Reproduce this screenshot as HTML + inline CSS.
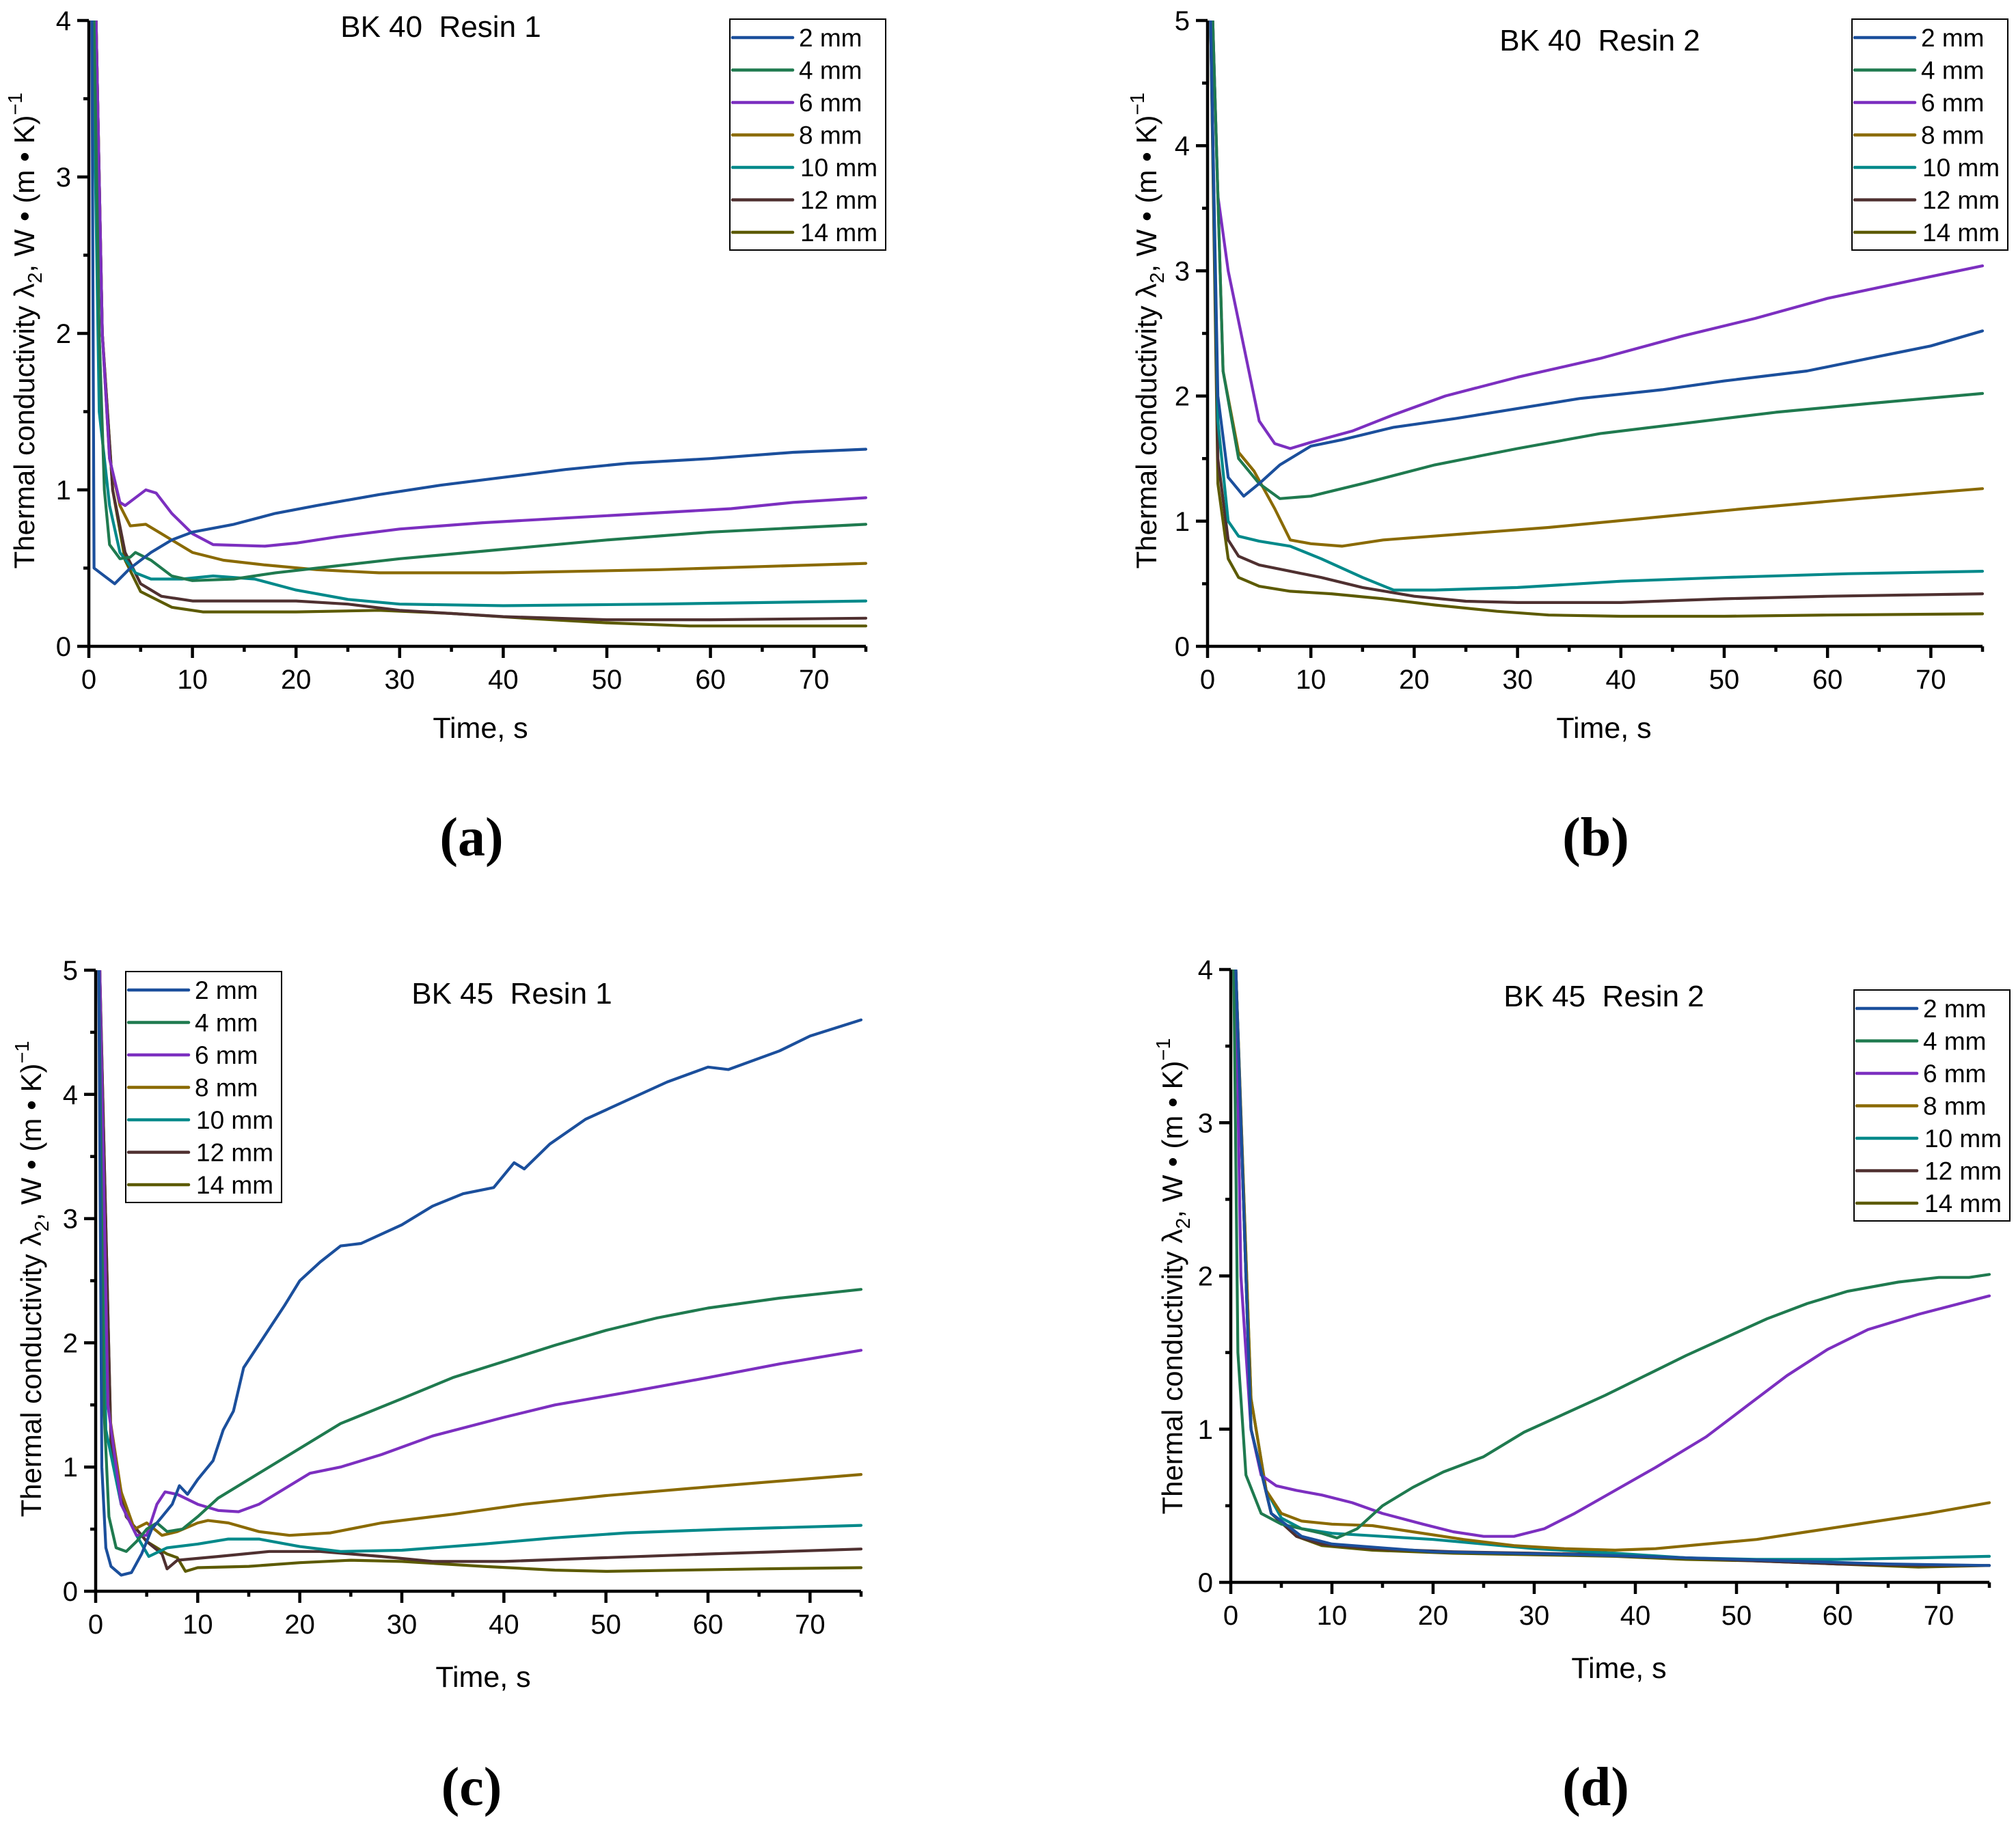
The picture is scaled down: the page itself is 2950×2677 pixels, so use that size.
<!DOCTYPE html>
<html><head><meta charset="utf-8"><style>
html,body{margin:0;padding:0;background:#fff}
svg{display:block}
text{font-family:"Liberation Sans",sans-serif;fill:#000}
</style></head><body>
<svg id="fig" width="2950" height="2677" viewBox="0 0 2950 2677" xmlns="http://www.w3.org/2000/svg"></svg>
<script>
// ---- data (time in s, conductivity values) ----
const seriesLabels = ["2 mm","4 mm","6 mm","8 mm","10 mm","12 mm","14 mm"];
const xTicks = [0,10,20,30,40,50,60,70];

// Panel a: BK 40 Resin 1
const a_t_2 = [0.3,0.5,1.5,2.5,4,6,8,10,14,18,22,28,34,40,46,52,60,68,75];
const a_v_2 = [4,0.5,0.45,0.4,0.5,0.6,0.68,0.73,0.78,0.85,0.9,0.97,1.03,1.08,1.13,1.17,1.2,1.24,1.26];
const a_t_4 = [0.5,1,1.5,2,3,4,4.5,6,8,10,14,18,22,30,40,50,60,75];
const a_v_4 = [4,2,1,0.65,0.56,0.57,0.6,0.55,0.45,0.42,0.43,0.47,0.5,0.56,0.62,0.68,0.73,0.78];
const a_t_6 = [0.7,1.3,2,3,3.5,4.5,5.5,6.5,8,10,12,17,20,24,30,38,46,54,62,68,75];
const a_v_6 = [4,2,1.2,0.92,0.9,0.95,1.0,0.98,0.85,0.72,0.65,0.64,0.66,0.7,0.75,0.79,0.82,0.85,0.88,0.92,0.95];
const a_t_8 = [0.7,1.3,2,3,4,5.5,7,10,13,17,22,28,40,55,65,75];
const a_v_8 = [4,2,1.2,0.9,0.77,0.78,0.72,0.6,0.55,0.52,0.49,0.47,0.47,0.49,0.51,0.53];
const a_t_10 = [0.4,1,2,3,4.5,6,9,12,16,20,25,30,40,55,75];
const a_v_10 = [4,1.5,0.9,0.6,0.47,0.43,0.43,0.45,0.43,0.36,0.3,0.27,0.26,0.27,0.29];
const a_t_12 = [0.7,1.3,2.3,3.5,5,7,10,15,20,25,30,40,50,60,75];
const a_v_12 = [4,2,1.0,0.6,0.4,0.32,0.29,0.29,0.29,0.27,0.23,0.19,0.17,0.17,0.18];
const a_t_14 = [0.7,1.3,2.3,3.5,5,8,11,20,28,35,42,50,58,75];
const a_v_14 = [4,2,1.0,0.55,0.35,0.25,0.22,0.22,0.23,0.21,0.18,0.15,0.13,0.13];

// Panel b: BK 40 Resin 2
const b_t_2 = [0.3,1,2,3.5,5,7,10,13,18,24,30,36,44,50,58,64,70,75];
const b_v_2 = [5,2,1.35,1.2,1.3,1.45,1.6,1.65,1.75,1.82,1.9,1.98,2.05,2.12,2.2,2.3,2.4,2.52];
const b_t_4 = [0.5,1.5,3,5,7,10,15,22,30,38,46,55,64,75];
const b_v_4 = [5,2.2,1.5,1.3,1.18,1.2,1.3,1.45,1.58,1.7,1.78,1.87,1.94,2.02];
const b_t_6 = [0.5,1,2,3.5,5,6.5,8,10,14,18,23,30,38,46,53,60,68,75];
const b_v_6 = [5,3.6,3.0,2.4,1.8,1.62,1.58,1.63,1.72,1.85,2.0,2.15,2.3,2.48,2.62,2.78,2.92,3.04];
const b_t_8 = [0.5,1.5,3,4.5,6.5,8,10,13,17,25,33,42,52,63,75];
const b_v_8 = [5,2.2,1.55,1.4,1.1,0.85,0.82,0.8,0.85,0.9,0.95,1.02,1.1,1.18,1.26];
const b_t_10 = [0.3,1,2,3,5,8,11,15,18,22,30,40,50,62,75];
const b_v_10 = [5,1.8,1.0,0.88,0.84,0.8,0.7,0.55,0.45,0.45,0.47,0.52,0.55,0.58,0.6];
const b_t_12 = [0.3,1,2,3,5,8,11,15,20,25,30,40,50,60,75];
const b_v_12 = [5,1.5,0.85,0.72,0.65,0.6,0.55,0.47,0.4,0.36,0.35,0.35,0.38,0.4,0.42];
const b_t_14 = [0.3,1,2,3,5,8,12,17,22,28,33,40,50,60,75];
const b_v_14 = [5,1.3,0.7,0.55,0.48,0.44,0.42,0.38,0.33,0.28,0.25,0.24,0.24,0.25,0.26];

// Panel c: BK 45 Resin 1
const c_t_2 = [0.3,0.6,1,1.5,2.5,3.5,4.5,5.5,6.5,7.5,8.2,9,10,11.5,12.5,13.5,14.5,16.5,18.5,20,22,24,26,30,33,36,39,41,42,44.5,48,52,56,60,62,67,70,75];
const c_v_2 = [5,1.0,0.35,0.2,0.13,0.15,0.3,0.5,0.6,0.7,0.85,0.78,0.9,1.05,1.3,1.45,1.8,2.05,2.3,2.5,2.65,2.78,2.8,2.95,3.1,3.2,3.25,3.45,3.4,3.6,3.8,3.95,4.1,4.22,4.2,4.35,4.47,4.6];
const c_t_4 = [0.3,0.8,1.3,2,3,4,5,6,7,8.5,10,12,16,20,24,30,35,40,45,50,55,60,67,75];
const c_v_4 = [5,1.5,0.6,0.35,0.32,0.4,0.5,0.55,0.48,0.5,0.6,0.75,0.95,1.15,1.35,1.55,1.72,1.85,1.98,2.1,2.2,2.28,2.36,2.43];
const c_t_6 = [0.4,1.2,2.5,4,5,6,6.8,8,10,12,14,16,18,21,24,28,33,40,45,52,60,67,75];
const c_v_6 = [5,1.5,0.7,0.45,0.45,0.7,0.8,0.78,0.7,0.65,0.64,0.7,0.8,0.95,1.0,1.1,1.25,1.4,1.5,1.6,1.72,1.83,1.94];
const c_t_8 = [0.4,1.2,2.5,3.8,5,6.5,8,10,11,13,16,19,23,28,35,42,50,60,75];
const c_v_8 = [5,1.5,0.8,0.5,0.55,0.45,0.48,0.55,0.57,0.55,0.48,0.45,0.47,0.55,0.62,0.7,0.77,0.84,0.94];
const c_t_10 = [0.3,1,2.5,4,5.2,7,10,13,16,20,24,30,38,45,52,62,75];
const c_v_10 = [5,1.3,0.7,0.45,0.28,0.35,0.38,0.42,0.42,0.36,0.32,0.33,0.38,0.43,0.47,0.5,0.53];
const c_t_12 = [0.4,1.5,3,5,6.5,7,8,12,17,22,28,33,40,50,60,75];
const c_v_12 = [5,1.2,0.6,0.4,0.3,0.18,0.25,0.28,0.32,0.32,0.28,0.24,0.24,0.27,0.3,0.34];
const c_t_14 = [0.4,1.5,3,5,7,8,8.8,10,15,20,25,30,38,45,50,65,75];
const c_v_14 = [5,1.2,0.6,0.4,0.3,0.27,0.16,0.19,0.2,0.23,0.25,0.24,0.2,0.17,0.16,0.18,0.19];

// Panel d: BK 45 Resin 2
const d_t_2 = [0.5,2,4,7,10,20,35,50,65,75];
const d_v_2 = [4,1,0.45,0.3,0.25,0.2,0.18,0.15,0.12,0.11];
const d_t_4 = [0.3,0.7,1.5,3,5,7,9,10.5,12.5,15,18,21,25,29,33,37,41,45,49,53,57,61,66,70,73,75];
const d_v_4 = [4,1.5,0.7,0.45,0.38,0.35,0.32,0.29,0.35,0.5,0.62,0.72,0.82,0.98,1.1,1.22,1.35,1.48,1.6,1.72,1.82,1.9,1.96,1.99,1.99,2.01];
const d_t_6 = [0.5,1,2,3,4.5,6.5,9,12,15,19,22,25,28,31,34,38,42,47,51,55,59,63,68,75];
const d_v_6 = [4,2,1.0,0.7,0.63,0.6,0.57,0.52,0.45,0.38,0.33,0.3,0.3,0.35,0.45,0.6,0.75,0.95,1.15,1.35,1.52,1.65,1.75,1.87];
const d_t_8 = [0.5,2,3.5,5,7,10,14,18,23,28,33,38,42,47,52,57,63,69,75];
const d_v_8 = [4,1.2,0.6,0.45,0.4,0.38,0.37,0.33,0.28,0.24,0.22,0.21,0.22,0.25,0.28,0.33,0.39,0.45,0.52];
const d_t_10 = [0.5,2,3.5,5,7,10,15,20,25,30,38,45,52,60,68,75];
const d_v_10 = [4,1.2,0.6,0.42,0.35,0.32,0.3,0.28,0.25,0.22,0.19,0.16,0.15,0.15,0.16,0.17];
const d_t_12 = [0.5,2,4,6.5,9,14,22,30,38,45,52,60,68,75];
const d_v_12 = [4,1,0.45,0.3,0.25,0.22,0.2,0.19,0.18,0.16,0.14,0.12,0.11,0.11];
const d_t_14 = [0.5,2,4,6.5,9,14,22,30,38,45,52,60,68,75];
const d_v_14 = [4,1,0.45,0.3,0.24,0.21,0.19,0.18,0.17,0.15,0.14,0.12,0.1,0.11];

const colors = ["#1b4f9c","#1f7a4f","#7c2fc0","#8a6a00","#00898a","#4f3030","#5c5a00"];

const panels = [
 {id:"a", x0:130, x1:1267, y0:946, y1:30, ymax:4, title:"BK 40  Resin 1", tx:645, ty:54,
  leg:{x:1068,y:28}, xlab:[703,1080], ylabx:50, ylaby:484, lab:[690,1252],
  ts:[a_t_2,a_t_4,a_t_6,a_t_8,a_t_10,a_t_12,a_t_14], vs:[a_v_2,a_v_4,a_v_6,a_v_8,a_v_10,a_v_12,a_v_14]},
 {id:"b", x0:1767, x1:2901, y0:946, y1:30, ymax:5, title:"BK 40  Resin 2", tx:2341, ty:74,
  leg:{x:2710,y:28}, xlab:[2347,1080], ylabx:1692, ylaby:484, lab:[2335,1252],
  ts:[b_t_2,b_t_4,b_t_6,b_t_8,b_t_10,b_t_12,b_t_14], vs:[b_v_2,b_v_4,b_v_6,b_v_8,b_v_10,b_v_12,b_v_14]},
 {id:"c", x0:140, x1:1260, y0:2329, y1:1420, ymax:5, title:"BK 45  Resin 1", tx:749, ty:1469,
  leg:{x:184,y:1422}, xlab:[707,2469], ylabx:60, ylaby:1872, lab:[690,2642],
  ts:[c_t_2,c_t_4,c_t_6,c_t_8,c_t_10,c_t_12,c_t_14], vs:[c_v_2,c_v_4,c_v_6,c_v_8,c_v_10,c_v_12,c_v_14]},
 {id:"d", x0:1801, x1:2911, y0:2316, y1:1419, ymax:4, title:"BK 45  Resin 2", tx:2347, ty:1473,
  leg:{x:2713,y:1449}, xlab:[2369,2456], ylabx:1730, ylaby:1868, lab:[2335,2642],
  ts:[d_t_2,d_t_4,d_t_6,d_t_8,d_t_10,d_t_12,d_t_14], vs:[d_v_2,d_v_4,d_v_6,d_v_8,d_v_10,d_v_12,d_v_14]}
];

const NS = "http://www.w3.org/2000/svg";
const svg = document.getElementById("fig");
function mk(tag, attrs, parent){
  const e = document.createElementNS(NS, tag);
  for (const k in attrs) e.setAttribute(k, attrs[k]);
  (parent||svg).appendChild(e);
  return e;
}

panels.forEach(p => {
  const g = mk("g", {});
  
  
  const sx = t => p.x0 + (p.x1 - p.x0) * t / 75;
  const sy = v => p.y0 - (p.y0 - p.y1) * v / p.ymax;

  const cp = mk("clipPath", {id:"clip-"+p.id}, g);
  mk("rect", {x:p.x0, y:p.y1, width:p.x1-p.x0+4, height:p.y0-p.y1}, cp);

  const sg = mk("g", {"clip-path":"url(#clip-"+p.id+")"}, g);
  for (let i = 6; i >= 0; i--) {
    const pts = p.ts[i].map((t, j) => sx(t).toFixed(1) + "," + sy(p.vs[i][j]).toFixed(1)).join(" ");
    const pl = mk("polyline", {points:pts, fill:"none", stroke:colors[i], "stroke-width":4.2, "stroke-linejoin":"round", "stroke-linecap":"round"}, sg);
    
    
  }

  const ax = mk("path", {d:`M${p.x0},${p.y1} V${p.y0} H${p.x1}`, fill:"none", stroke:"#000", "stroke-width":4.5}, g);
  
  

  for (let t = 0; t <= 75; t += 5) {
    const major = t % 10 === 0;
    mk("line", {x1:sx(t), x2:sx(t), y1:p.y0, y2:p.y0 + (major?17:8), stroke:"#000", "stroke-width":4.5}, g);
  }
  xTicks.forEach(t => {
    const tx = mk("text", {x:sx(t), y:p.y0 + 62, "font-size":40, "text-anchor":"middle"}, g);
    tx.textContent = t;
    
    
  });
  for (let v = 0; v <= p.ymax + 1e-9; v += 0.5) {
    const major = Math.abs(v - Math.round(v)) < 1e-9;
    mk("line", {x1:p.x0 - (major?17:8), x2:p.x0, y1:sy(v), y2:sy(v), stroke:"#000", "stroke-width":4.5}, g);
    if (major) {
      const ty = mk("text", {x:p.x0 - 26, y:sy(v) + 14, "font-size":40, "text-anchor":"end"}, g);
      ty.textContent = v;
      
      
    }
  }

  const xl = mk("text", {x:p.xlab[0], y:p.xlab[1], "font-size":43, "text-anchor":"middle"}, g);
  xl.textContent = "Time, s";
  
  

  const yl = mk("text", {x:0, y:0, "font-size":42, "text-anchor":"middle", transform:`translate(${p.ylabx},${p.ylaby}) rotate(-90)`}, g);
  yl.innerHTML = 'Thermal conductivity λ<tspan font-size="29" dy="11">2</tspan><tspan dy="-11">, W • (m • K)</tspan><tspan font-size="29" dy="-18">−1</tspan>';
  
  

  const tt = mk("text", {x:p.tx, y:p.ty, "font-size":44, "text-anchor":"middle", style:"white-space:pre"}, g);
  tt.textContent = p.title;
  
  

  const lg = mk("g", {}, g);
  
  
  mk("rect", {x:p.leg.x, y:p.leg.y, width:228, height:338, fill:"#fff", stroke:"#000", "stroke-width":2}, lg);
  seriesLabels.forEach((s, i) => {
    const yy = p.leg.y + 27 + 47.5 * i;
    const le = mk("g", {}, lg);
    
    
    mk("line", {x1:p.leg.x + 4, x2:p.leg.x + 92, y1:yy, y2:yy, stroke:colors[i], "stroke-width":4.5, "stroke-linecap":"round"}, le);
    const lt = mk("text", {x:p.leg.x + (i < 4 ? 101 : 103), y:yy + 13, "font-size":37}, le);
    lt.textContent = s;
  });

  const pl = mk("text", {x:p.lab[0], y:p.lab[1], "font-size":80, "font-weight":"bold", "text-anchor":"middle", style:'font-family:"Liberation Serif",serif'}, g);
  pl.textContent = "(" + p.id + ")";
  
  
});
</script>
</body></html>
